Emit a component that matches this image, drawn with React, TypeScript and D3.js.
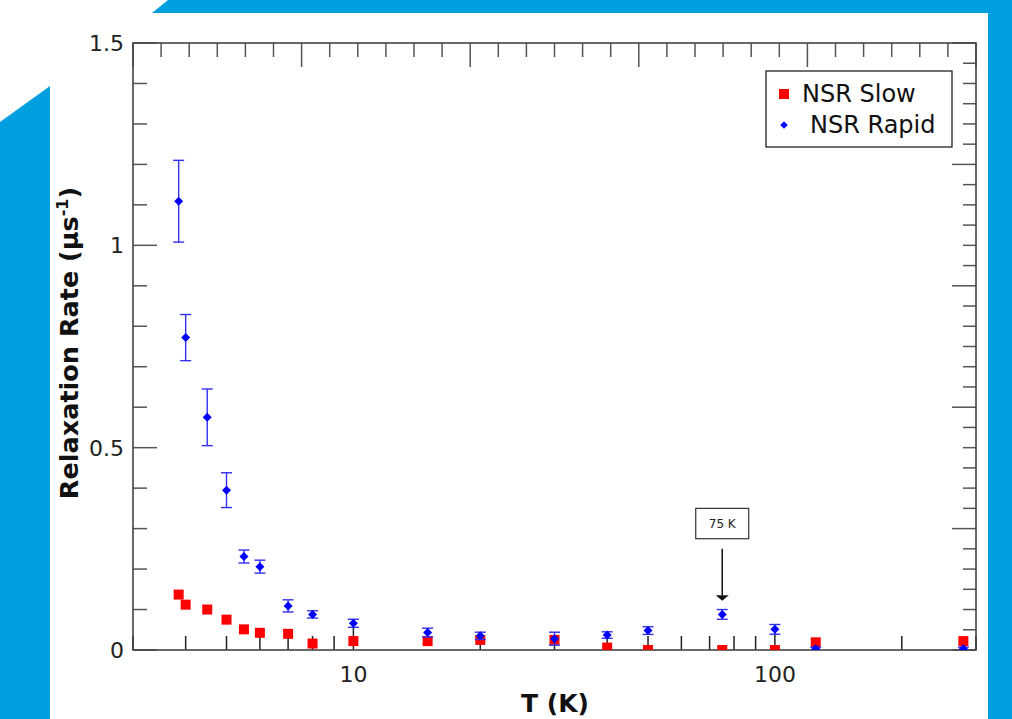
import React from "react";
import * as d3 from "d3";

// ---- data ----
const temps = [3.85, 4, 4.5, 5, 5.5, 6, 7, 8, 10, 15, 20, 30, 40, 50, 75, 100, 125, 280];
const slowRate = [0.137, 0.112, 0.1, 0.075, 0.051, 0.0425, 0.04, 0.016, 0.022, 0.022, 0.025, 0.025, 0.006, 0.0, 0.0, 0.0, 0.019, 0.022];
const rapidRate = [1.109, 0.772, 0.575, 0.395, 0.231, 0.206, 0.109, 0.088, 0.066, 0.043, 0.035, 0.028, 0.037, 0.048, 0.088, 0.051, 0.003, 0.003];
const rapidErr = [0.101, 0.057, 0.07, 0.043, 0.016, 0.016, 0.015, 0.009, 0.01, 0.011, 0.009, 0.016, 0.008, 0.0095, 0.012, 0.012, 0.004, 0.004];
const yTickLabels = ["0", "0.5", "1", "1.5"];
const xTickLabels = ["10", "100"];
const seriesNames = ["NSR Slow", "NSR Rapid"];
const annotationT = 75;
const annotationText = "75 K";

const W = 1012;
const H = 719;
const L = 133, R = 976, TOP = 43, B = 650;
const BLUE_BG = "#009fdf";
const FONT = "DejaVu Sans";

export default function App() {
  const x = d3.scaleLog().domain([3, 300]).range([L, R]);
  const y = d3.scaleLinear().domain([0, 1.5]).range([B, TOP]);
  const topS = d3.scaleLinear().domain([0, 30]).range([L, R]);
  const rightS = d3.scaleLinear().domain([0, 30]).range([B, TOP]);

  const yTicks = d3.range(0, 16).map((i) => i / 10);
  const xTicks = x.ticks();
  const topTicks = d3.range(0, 31);
  const rightTicks = d3.range(0, 31);
  const tickCol = "#555";

  const diamond = (cx: number, cy: number, r = 4.5) =>
    `M${cx},${cy - r}L${cx + r},${cy}L${cx},${cy + r}L${cx - r},${cy}Z`;

  const ax = x(annotationT);

  return (
    <div style={{ position: "absolute", left: 0, top: 0 }}>
      <svg width={W} height={H} style={{ display: "block", background: "#fff" }}>
        {/* background decoration */}
        <polygon points="152,13 168,0 1012,0 1012,13" fill={BLUE_BG} />
        <rect x={988} y={0} width={24} height={H} fill={BLUE_BG} />
        <polygon points={`0,122 50,86 50,${H} 0,${H}`} fill={BLUE_BG} />

        <defs>
          <clipPath id="plotClip">
            <rect x={L} y={TOP} width={R - L} height={B - TOP} />
          </clipPath>
        </defs>

        {/* left ticks */}
        {yTicks.map((v, i) => {
          const major = i % 5 === 0;
          return (
            <line key={"yl" + i} x1={L} x2={L + (major ? 24 : 14)} y1={y(v)} y2={y(v)} stroke={tickCol} strokeWidth={1.5} />
          );
        })}
        {/* right ticks */}
        {rightTicks.map((v, i) => {
          const major = i % 6 === 0;
          return (
            <line key={"yr" + i} x1={R} x2={R - (major ? 24 : 13)} y1={rightS(v)} y2={rightS(v)} stroke={tickCol} strokeWidth={1.5} />
          );
        })}
        {/* top ticks */}
        {topTicks.map((v, i) => {
          const major = i % 6 === 0;
          return (
            <line key={"xt" + i} x1={topS(v)} x2={topS(v)} y1={TOP} y2={TOP + (major ? 24 : 14)} stroke={tickCol} strokeWidth={1.5} />
          );
        })}
        {/* bottom ticks */}
        {xTicks.map((v, i) => {
          const major = Math.abs(Math.log10(v) - Math.round(Math.log10(v))) < 1e-9;
          return (
            <line key={"xb" + i} x1={x(v)} x2={x(v)} y1={B} y2={B - (major ? 24 : 14)} stroke={"#222"} strokeWidth={1.5} />
          );
        })}

        {/* frame */}
        <rect x={L} y={TOP} width={R - L} height={B - TOP} fill="none" stroke="#444" strokeWidth={1.6} />

        {/* y tick labels */}
        {yTickLabels.map((t) => (
          <text key={"yt" + t} x={124} y={y(+t)} dy="0.36em" textAnchor="end" fontFamily={FONT} fontSize={22} fill="#222">
            {t}
          </text>
        ))}
        {/* x tick labels */}
        {xTickLabels.map((t) => (
          <text key={"xtl" + t} x={x(+t)} y={682} textAnchor="middle" fontFamily={FONT} fontSize={22} fill="#222">
            {t}
          </text>
        ))}

        {/* axis titles */}
        <text x={555} y={712} textAnchor="middle" fontFamily={FONT} fontWeight="bold" fontSize={25} fill="#111">
          T (K)
        </text>
        <text transform="translate(78,343) rotate(-90)" textAnchor="middle" fontFamily={FONT} fontWeight="bold" fontSize={25.5} fill="#111">
          Relaxation Rate (μs
          <tspan dy={-10} fontSize={16}>-1</tspan>
          <tspan dy={10}>)</tspan>
        </text>

        {/* data */}
        <g clipPath="url(#plotClip)">
          {temps.map((t, i) => (
            <rect key={"s" + i} x={x(t) - 5} y={y(slowRate[i]) - 5} width={10} height={10} fill="#ff0000" />
          ))}
          {temps.map((t, i) => {
            const cx = x(t);
            const y1 = y(rapidRate[i] + rapidErr[i]);
            const y2 = y(rapidRate[i] - rapidErr[i]);
            return (
              <g key={"r" + i}>
                <line x1={cx} x2={cx} y1={y1} y2={y2} stroke="#3030f0" strokeWidth={1.4} />
                <line x1={cx - 5.5} x2={cx + 5.5} y1={y1} y2={y1} stroke="#3030f0" strokeWidth={1.4} />
                <line x1={cx - 5.5} x2={cx + 5.5} y1={y2} y2={y2} stroke="#3030f0" strokeWidth={1.4} />
                <path d={diamond(cx, y(rapidRate[i]))} fill="#0000ff" />
              </g>
            );
          })}
        </g>

        {/* annotation */}
        <rect x={ax - 26.5} y={y(0.35)} width={53} height={y(0.275) - y(0.35)} fill="#fff" stroke="#333" strokeWidth={1.2} />
        <text x={ax} y={(y(0.35) + y(0.275)) / 2} dy="0.36em" textAnchor="middle" fontFamily={FONT} fontSize={12} fill="#222">
          {annotationText}
        </text>
        <line x1={ax} x2={ax} y1={y(0.25)} y2={y(0.135)} stroke="#111" strokeWidth={1.5} />
        <path d={`M${ax - 6.5},${y(0.135)}L${ax + 6.5},${y(0.135)}L${ax},${y(0.122)}Z`} fill="#111" />

        {/* legend */}
        <rect x={766} y={71} width={186} height={76} fill="#fff" stroke="#222" strokeWidth={1.3} />
        <rect x={779} y={89} width={10} height={10} fill="#ff0000" />
        <text x={802} y={102} fontFamily={FONT} fontSize={24} fill="#111">{seriesNames[0]}</text>
        <path d={diamond(784, 125, 3.8)} fill="#0000ff" />
        <text x={810} y={133} fontFamily={FONT} fontSize={24} fill="#111">{seriesNames[1]}</text>
      </svg>
    </div>
  );
}
